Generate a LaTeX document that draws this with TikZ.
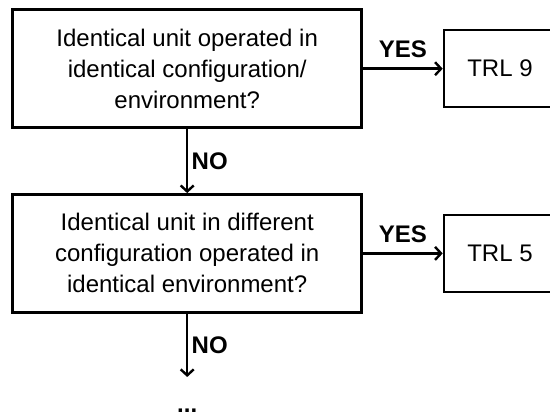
\documentclass[tikz,border=0pt]{standalone}
\usepackage{fontspec}
\setmainfont{Liberation Sans}
\usetikzlibrary{positioning, arrows.meta}

\begin{document}
\begin{tikzpicture}[x=1pt, y=1pt, on grid, node distance=184.7pt and 312.8pt,
    font=\fontsize{24}{31}\selectfont,
    question/.style={draw, line width=2.6pt, minimum width=349pt, minimum height=118pt, align=center},
    result/.style={draw, line width=2.6pt, minimum width=112pt, minimum height=77pt},
    answer/.style={font=\fontsize{24}{31}\selectfont\bfseries},
    link/.style={line width=2.4pt, -{Straight Barb[length=6pt, width=13pt]}}]
      \useasboundingbox (0,0) rectangle (550,-414);
      \node[question] (q_1) at (187.2,-68.7)     {Identical unit operated in\\identical configuration/\\environment?};
      \node[question] (q_2) [below=of q_1]       {Identical unit in different\\configuration operated in\\identical environment?};
      \node[result]   (trl_9) [right=of q_1]     {TRL 9};
      \node[result]   (trl_5) [right=of q_2]     {TRL 5};
      \coordinate[below=123.6pt of q_2] (stop);
      \node[answer, anchor=base, inner sep=0pt] (more) at (187.2,-412.6) {...};
      \path
        (q_1) edge [link]  node[answer, above=6pt] {YES} (trl_9)
              edge [link]  node[answer, right]     {NO}  (q_2)
        (q_2) edge [link]  node[answer, above=6pt] {YES} (trl_5)
              edge [link]  node[answer, right]     {NO}  (stop);
    \end{tikzpicture}
\end{document}
